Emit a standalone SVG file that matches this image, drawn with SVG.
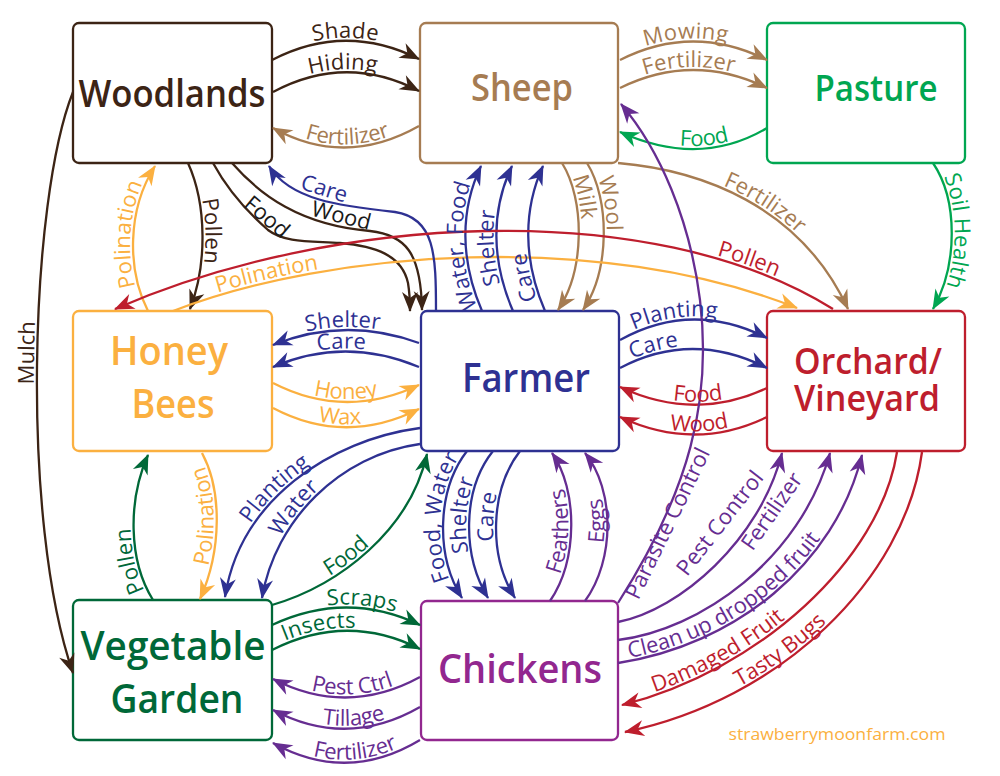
<svg xmlns="http://www.w3.org/2000/svg" xmlns:xlink="http://www.w3.org/1999/xlink" width="1000" height="776" viewBox="0 0 1000 776">
<style>
.box{fill:#fff;stroke-width:2.3}
.c{fill:none;stroke-width:2.3}
.lbl{font-family:"Open Sans","Liberation Sans",sans-serif;font-size:22px}
.nt{font-family:"Open Sans","Liberation Sans",sans-serif;font-weight:600;text-anchor:middle}
.ck{stroke:#3c2415;marker-end:url(#mk)}
.cs{stroke:#a67c52;marker-end:url(#ms)}
.cp{stroke:#00a651;marker-end:url(#mp)}
.co{stroke:#fbb040;marker-end:url(#mo)}
.cb{stroke:#2e3192;marker-end:url(#mb)}
.cr{stroke:#be1e2d;marker-end:url(#mr)}
.cg{stroke:#006838;marker-end:url(#mg)}
.cu{stroke:#662d91;marker-end:url(#mu)}
.tk{fill:#3c2415}.tx{fill:#1a1a1a}.ts{fill:#a67c52}.tp{fill:#00a651}.to{fill:#fbb040}
.tb{fill:#2e3192}.tr{fill:#be1e2d}.tg{fill:#006838}.tu{fill:#662d91}
</style>
<defs>
<marker id="mk" markerUnits="userSpaceOnUse" viewBox="-21 -9 23 18" refX="-1" refY="0" markerWidth="23" markerHeight="18" orient="auto"><path d="M0,0 L-20,-8 L-14,0 L-20,8 Z" fill="#3c2415"/></marker>
<marker id="ms" markerUnits="userSpaceOnUse" viewBox="-21 -9 23 18" refX="-1" refY="0" markerWidth="23" markerHeight="18" orient="auto"><path d="M0,0 L-20,-8 L-14,0 L-20,8 Z" fill="#a67c52"/></marker>
<marker id="mp" markerUnits="userSpaceOnUse" viewBox="-21 -9 23 18" refX="-1" refY="0" markerWidth="23" markerHeight="18" orient="auto"><path d="M0,0 L-20,-8 L-14,0 L-20,8 Z" fill="#00a651"/></marker>
<marker id="mo" markerUnits="userSpaceOnUse" viewBox="-21 -9 23 18" refX="-1" refY="0" markerWidth="23" markerHeight="18" orient="auto"><path d="M0,0 L-20,-8 L-14,0 L-20,8 Z" fill="#fbb040"/></marker>
<marker id="mb" markerUnits="userSpaceOnUse" viewBox="-21 -9 23 18" refX="-1" refY="0" markerWidth="23" markerHeight="18" orient="auto"><path d="M0,0 L-20,-8 L-14,0 L-20,8 Z" fill="#2e3192"/></marker>
<marker id="mr" markerUnits="userSpaceOnUse" viewBox="-21 -9 23 18" refX="-1" refY="0" markerWidth="23" markerHeight="18" orient="auto"><path d="M0,0 L-20,-8 L-14,0 L-20,8 Z" fill="#be1e2d"/></marker>
<marker id="mg" markerUnits="userSpaceOnUse" viewBox="-21 -9 23 18" refX="-1" refY="0" markerWidth="23" markerHeight="18" orient="auto"><path d="M0,0 L-20,-8 L-14,0 L-20,8 Z" fill="#006838"/></marker>
<marker id="mu" markerUnits="userSpaceOnUse" viewBox="-21 -9 23 18" refX="-1" refY="0" markerWidth="23" markerHeight="18" orient="auto"><path d="M0,0 L-20,-8 L-14,0 L-20,8 Z" fill="#662d91"/></marker>
<path id="lFertSW" d="M273,128 Q345,168 419,126"/>
<path id="lMulch" d="M73,673 C20,520 30,200 73,92"/>
<path id="lFoodPS" d="M620,132 Q700,168 767,128"/>
<path id="lPollenOB" d="M115,309 C330,215 650,195 833,309"/>
<path id="lShelterB" d="M273,345 Q345,316 419,343"/>
<path id="lCareB" d="M273,367 Q345,336 419,367"/>
<path id="lFoodO" d="M620,387 Q695,422 767,388"/>
<path id="lWoodO" d="M620,417 Q695,452 767,417"/>
<path id="lPlantV" d="M225,597 C240,500 330,440 420,428"/>
<path id="lWaterV" d="M262,598 C275,520 340,455 420,444"/>
<path id="lPolBV" d="M200,599 C222,550 222,490 202,453"/>
<path id="lFoodWater" d="M462,598 C435,555 437,490 467,451"/>
<path id="lShelterC" d="M488,598 C462,555 462,490 493,451"/>
<path id="lCareC" d="M515,598 C488,555 490,490 520,451"/>
<path id="lPestCtrl" d="M273,679 Q347,717 420,677"/>
<path id="lTillage" d="M273,710 Q347,749 420,707"/>
<path id="lFertCV" d="M273,743 Q347,784 420,740"/>
<path id="lDamaged" d="M622,705 C760,670 880,560 897,452"/>
<path id="lTasty" d="M625,732 C780,700 905,580 922,452"/>
</defs>
<rect width="1000" height="776" fill="#fff"/>

<g id="woodlands"><rect class="box" x="73" y="23" width="199" height="140" rx="6" stroke="#3c2415"/><text class="nt" x="172" y="107" font-size="37" fill="#3c2415" textLength="187" lengthAdjust="spacingAndGlyphs">Woodlands</text></g>
<g id="sheep"><rect class="box" x="420" y="23" width="198" height="140" rx="6" stroke="#a67c52"/><text class="nt" x="522" y="101" font-size="37" fill="#a67c52" textLength="102" lengthAdjust="spacingAndGlyphs">Sheep</text></g>
<g id="pasture"><rect class="box" x="767" y="23" width="198" height="140" rx="6" stroke="#00a651"/><text class="nt" x="876" y="101" font-size="36" fill="#00a651" textLength="123" lengthAdjust="spacingAndGlyphs">Pasture</text></g>
<g id="honeybees"><rect class="box" x="73" y="311" width="199" height="140" rx="6" stroke="#fbb040"/><text class="nt" x="169" y="365" font-size="40.5" fill="#fbb040" textLength="118" lengthAdjust="spacingAndGlyphs">Honey</text><text class="nt" x="173" y="418" font-size="40.5" fill="#fbb040" textLength="83" lengthAdjust="spacingAndGlyphs">Bees</text></g>
<g id="farmer"><rect class="box" x="421" y="311" width="198" height="140" rx="6" stroke="#2e3192"/><text class="nt" x="526" y="392" font-size="40" fill="#2e3192" textLength="128" lengthAdjust="spacingAndGlyphs">Farmer</text></g>
<g id="orchard"><rect class="box" x="767" y="311" width="198" height="140" rx="6" stroke="#be1e2d"/><text class="nt" x="868" y="374" font-size="36.5" fill="#be1e2d" textLength="148" lengthAdjust="spacingAndGlyphs">Orchard/</text><text class="nt" x="867" y="411" font-size="36.5" fill="#be1e2d" textLength="146" lengthAdjust="spacingAndGlyphs">Vineyard</text></g>
<g id="vegetablegarden"><rect class="box" x="73" y="600" width="199" height="140" rx="6" stroke="#006838"/><text class="nt" x="173" y="660" font-size="40.5" fill="#006838" textLength="185" lengthAdjust="spacingAndGlyphs">Vegetable</text><text class="nt" x="177" y="713" font-size="40.5" fill="#006838" textLength="133" lengthAdjust="spacingAndGlyphs">Garden</text></g>
<g id="chickens"><rect class="box" x="421" y="601" width="197" height="139" rx="6" stroke="#92278f"/><text class="nt" x="520" y="683" font-size="40.5" fill="#92278f" textLength="164" lengthAdjust="spacingAndGlyphs">Chickens</text></g>

<g id="connectors">
<path id="cShade" class="c ck" d="M272,60 Q345,22 419,59"/>
<path id="cHiding" class="c ck" d="M273,92 Q346,53 419,91"/>
<path id="cMulch" class="c ck" d="M73,92 C30,200 20,520 73,673"/>
<path id="cPollenWB" class="c ck" d="M188,163 C207,205 207,265 190,309"/>
<path id="cFoodW" class="c ck" d="M213,163 C225,185 245,210 268,230 C285,243 310,241 340,243 C375,246 402,255 408,283 C410,295 410,303 410,311"/>
<path id="cWoodW" class="c ck" d="M232,163 C260,195 300,225 370,231 C405,235 421,252 422,310"/>
<path id="cFertSW" class="c cs" d="M419,126 Q345,168 273,128"/>
<path id="cMowing" class="c cs" d="M620,60 Q693,23 767,60"/>
<path id="cFertSP" class="c cs" d="M620,88 Q693,52 767,88"/>
<path id="cMilk" class="c cs" d="M562,163 C585,200 585,270 558,310"/>
<path id="cWool" class="c cs" d="M587,163 C610,200 610,270 583,310"/>
<path id="cFertSO" class="c cs" d="M618,163 C700,170 800,205 848,309"/>
<path id="cFoodPS" class="c cp" d="M767,128 Q700,168 620,132"/>
<path id="cSoil" class="c cp" d="M933,163 C958,200 958,265 933,309"/>
<path id="cPolBW" class="c co" d="M148,311 C127,270 127,210 155,166"/>
<path id="cPolBO" class="c co" d="M173,311 C330,250 600,230 797,308"/>
<path id="cHoney" class="c co" d="M273,383 Q345,420 419,385"/>
<path id="cWax" class="c co" d="M273,408 Q345,446 419,409"/>
<path id="cPolBV" class="c co" d="M202,453 C222,490 222,550 200,599"/>
<path id="cCareW" class="c cb" d="M436,311 C436,255 435,218 395,212 C340,206 290,200 269,166"/>
<path id="cWaterFood" class="c cb" d="M482,311 C460,260 460,210 481,166"/>
<path id="cShelterS" class="c cb" d="M513,311 C491,260 491,210 512,166"/>
<path id="cCareS" class="c cb" d="M545,311 C523,260 523,210 543,166"/>
<path id="cShelterB" class="c cb" d="M419,343 Q345,316 273,345"/>
<path id="cCareB" class="c cb" d="M419,367 Q345,336 273,367"/>
<path id="cPlantO" class="c cb" d="M620,340 Q692,300 767,338"/>
<path id="cCareO" class="c cb" d="M620,368 Q692,330 767,368"/>
<path id="cPlantV" class="c cb" d="M420,428 C330,440 240,500 225,597"/>
<path id="cWaterV" class="c cb" d="M420,444 C340,455 275,520 262,598"/>
<path id="cFoodWater" class="c cb" d="M467,451 C437,490 435,555 462,598"/>
<path id="cShelterC" class="c cb" d="M493,451 C462,490 462,555 488,598"/>
<path id="cCareC" class="c cb" d="M520,451 C490,490 488,555 515,598"/>
<path id="cPollenOB" class="c cr" d="M833,309 C650,195 330,215 115,309"/>
<path id="cFoodO" class="c cr" d="M767,388 Q695,422 620,387"/>
<path id="cWoodO" class="c cr" d="M767,417 Q695,452 620,417"/>
<path id="cDamaged" class="c cr" d="M897,452 C880,560 760,670 622,705"/>
<path id="cTasty" class="c cr" d="M922,452 C905,580 780,700 625,732"/>
<path id="cPollenVB" class="c cg" d="M153,600 C128,560 128,500 148,455"/>
<path id="cFoodV" class="c cg" d="M272,605 C340,585 410,530 427,454"/>
<path id="cScraps" class="c cg" d="M272,625 Q347,590 420,625"/>
<path id="cInsects" class="c cg" d="M272,650 Q347,612 420,649"/>
<path id="cFeathers" class="c cu" d="M550,601 C578,560 578,490 552,453"/>
<path id="cEggs" class="c cu" d="M585,601 C615,560 615,490 585,453"/>
<path id="cParasite" class="c cu" d="M618,603 C690,490 712,400 700,300 C690,220 660,150 621,104"/>
<path id="cPest" class="c cu" d="M618,622 C680,610 760,540 782,453"/>
<path id="cFertCO" class="c cu" d="M618,640 C700,630 800,560 830,453"/>
<path id="cClean" class="c cu" d="M618,663 C735,645 835,565 862,455"/>
<path id="cPestCtrl" class="c cu" d="M420,677 Q347,717 273,679"/>
<path id="cTillage" class="c cu" d="M420,707 Q347,749 273,710"/>
<path id="cFertCV" class="c cu" d="M420,740 Q347,784 273,743"/>
</g>

<g id="labels" class="lbl">
<text class="tk" text-anchor="middle"><textPath href="#cShade" startOffset="50%"><tspan dy="-3">Shade</tspan></textPath></text>
<text class="tk" text-anchor="middle"><textPath href="#cHiding" startOffset="48%"><tspan dy="-3">Hiding</tspan></textPath></text>
<text class="tk" text-anchor="middle"><textPath href="#lMulch" startOffset="55%"><tspan dy="-3">Mulch</tspan></textPath></text>
<text class="tk" text-anchor="middle"><textPath href="#cPollenWB" startOffset="47%"><tspan dy="-3">Pollen</tspan></textPath></text>
<text class="tx" text-anchor="middle" transform="translate(266,218) rotate(40)" y="6">Food</text>
<text class="tx" text-anchor="middle" transform="translate(341,217) rotate(14)" y="6">Wood</text>
<text class="ts" text-anchor="middle"><textPath href="#lFertSW" startOffset="51%"><tspan dy="-3">Fertilizer</tspan></textPath></text>
<text class="ts" text-anchor="middle"><textPath href="#cMowing" startOffset="45%"><tspan dy="-3">Mowing</tspan></textPath></text>
<text class="ts" text-anchor="middle"><textPath href="#cFertSP" startOffset="47%"><tspan dy="-3">Fertilizer</tspan></textPath></text>
<text class="ts" text-anchor="middle"><textPath href="#cMilk" startOffset="25%"><tspan dy="-3">Milk</tspan></textPath></text>
<text class="ts" text-anchor="middle"><textPath href="#cWool" startOffset="29%"><tspan dy="-3">Wool</tspan></textPath></text>
<text class="ts" text-anchor="middle"><textPath href="#cFertSO" startOffset="53%"><tspan dy="-3">Fertilizer</tspan></textPath></text>
<text class="tp" text-anchor="middle"><textPath href="#lFoodPS" startOffset="57%"><tspan dy="-3">Food</tspan></textPath></text>
<text class="tp" text-anchor="middle"><textPath href="#cSoil" startOffset="47%"><tspan dy="-3">Soil Health</tspan></textPath></text>
<text class="to" text-anchor="middle"><textPath href="#cPolBW" startOffset="52%"><tspan dy="-3">Polination</tspan></textPath></text>
<text class="to" text-anchor="middle"><textPath href="#cPolBO" startOffset="100"><tspan dy="-3">Polination</tspan></textPath></text>
<text class="to" text-anchor="middle"><textPath href="#cHoney" startOffset="50%"><tspan dy="-3">Honey</tspan></textPath></text>
<text class="to" text-anchor="middle"><textPath href="#cWax" startOffset="46%"><tspan dy="-3">Wax</tspan></textPath></text>
<text class="to" text-anchor="middle"><textPath href="#lPolBV" startOffset="57%"><tspan dy="-3">Polination</tspan></textPath></text>
<text class="tb" text-anchor="middle" transform="translate(324,190) rotate(17)" y="6">Care</text>
<text class="tb" text-anchor="middle"><textPath href="#cWaterFood" startOffset="45%"><tspan dy="-3">Water, Food</tspan></textPath></text>
<text class="tb" text-anchor="middle"><textPath href="#cShelterS" startOffset="44%"><tspan dy="-3">Shelter</tspan></textPath></text>
<text class="tb" text-anchor="middle"><textPath href="#cCareS" startOffset="25%"><tspan dy="-3">Care</tspan></textPath></text>
<text class="tb" text-anchor="middle"><textPath href="#lShelterB" startOffset="48%"><tspan dy="-3">Shelter</tspan></textPath></text>
<text class="tb" text-anchor="middle"><textPath href="#lCareB" startOffset="47%"><tspan dy="-3">Care</tspan></textPath></text>
<text class="tb" text-anchor="middle"><textPath href="#cPlantO" startOffset="38%"><tspan dy="-3">Planting</tspan></textPath></text>
<text class="tb" text-anchor="middle"><textPath href="#cCareO" startOffset="25%"><tspan dy="-3">Care</tspan></textPath></text>
<text class="tb" text-anchor="middle"><textPath href="#lPlantV" startOffset="43%"><tspan dy="-3">Planting</tspan></textPath></text>
<text class="tb" text-anchor="middle"><textPath href="#lWaterV" startOffset="40%"><tspan dy="-3">Water</tspan></textPath></text>
<text class="tb" text-anchor="middle"><textPath href="#lFoodWater" startOffset="54%"><tspan dy="-3">Food, Water</tspan></textPath></text>
<text class="tb" text-anchor="middle"><textPath href="#lShelterC" startOffset="55%"><tspan dy="-3">Shelter</tspan></textPath></text>
<text class="tb" text-anchor="middle"><textPath href="#lCareC" startOffset="54%"><tspan dy="-3">Care</tspan></textPath></text>
<text class="tr" text-anchor="middle"><textPath href="#lPollenOB" startOffset="87%"><tspan dy="-3">Pollen</tspan></textPath></text>
<text class="tr" text-anchor="middle"><textPath href="#lFoodO" startOffset="53%"><tspan dy="-3">Food</tspan></textPath></text>
<text class="tr" text-anchor="middle"><textPath href="#lWoodO" startOffset="54%"><tspan dy="-3">Wood</tspan></textPath></text>
<text class="tr"><textPath href="#lDamaged" startOffset="35"><tspan dy="-3">Damaged Fruit</tspan></textPath></text>
<text class="tr"><textPath href="#lTasty" startOffset="124"><tspan dy="-3">Tasty Bugs</tspan></textPath></text>
<text class="tg" text-anchor="middle"><textPath href="#cPollenVB" startOffset="29%"><tspan dy="-3">Pollen</tspan></textPath></text>
<text class="tg" text-anchor="middle"><textPath href="#cFoodV" startOffset="40%"><tspan dy="-3">Food</tspan></textPath></text>
<text class="tg" text-anchor="middle"><textPath href="#cScraps" startOffset="60%"><tspan dy="-3">Scraps</tspan></textPath></text>
<text class="tg" text-anchor="middle"><textPath href="#cInsects" startOffset="33%"><tspan dy="-3">Insects</tspan></textPath></text>
<text class="tu" text-anchor="middle"><textPath href="#cFeathers" startOffset="47%"><tspan dy="-3">Feathers</tspan></textPath></text>
<text class="tu" text-anchor="middle"><textPath href="#cEggs" startOffset="54%"><tspan dy="-3">Eggs</tspan></textPath></text>
<text class="tu" text-anchor="middle" transform="translate(669,524) rotate(-64)" y="6">Parasite Control</text>
<text class="tu" text-anchor="middle" transform="translate(721,524) rotate(-52)" y="6">Pest Control</text>
<text class="tu" text-anchor="middle" transform="translate(773,512) rotate(-55)" y="6">Fertilizer</text>
<text class="tu"><textPath href="#cClean" startOffset="12"><tspan dy="-3">Clean up dropped fruit</tspan></textPath></text>
<text class="tu" text-anchor="middle"><textPath href="#lPestCtrl" startOffset="54%"><tspan dy="-3">Pest Ctrl</tspan></textPath></text>
<text class="tu" text-anchor="middle"><textPath href="#lTillage" startOffset="55%"><tspan dy="-3">Tillage</tspan></textPath></text>
<text class="tu" text-anchor="middle"><textPath href="#lFertCV" startOffset="56%"><tspan dy="-3">Fertilizer</tspan></textPath></text>
</g>
<text x="837" y="740" font-family="Open Sans, Liberation Sans, sans-serif" font-size="17" fill="#fbb040" text-anchor="middle" textLength="217" lengthAdjust="spacingAndGlyphs">strawberrymoonfarm.com</text>
</svg>
